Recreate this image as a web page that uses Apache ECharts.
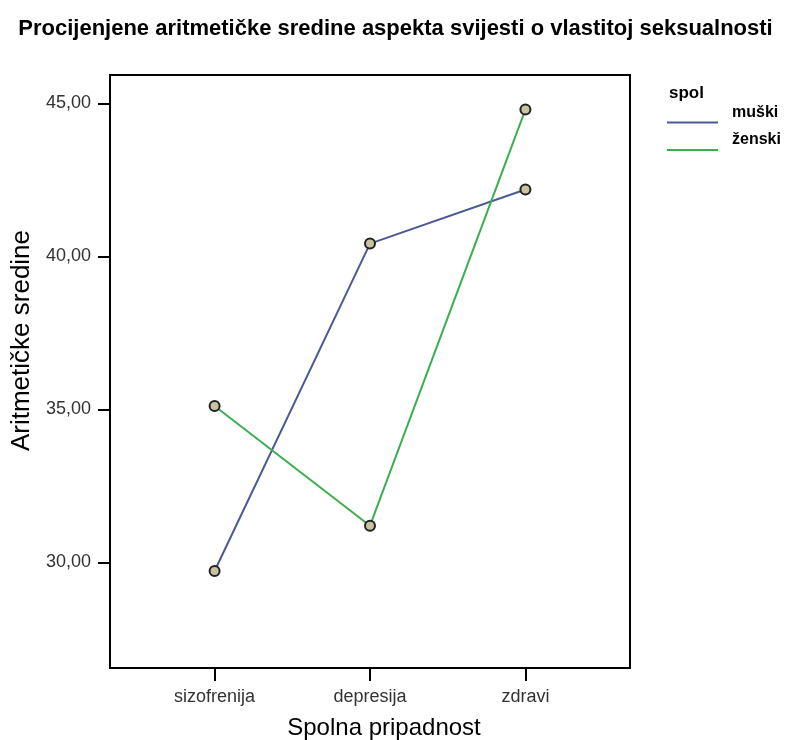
<!DOCTYPE html>
<html>
<head>
<meta charset="utf-8">
<script src="https://cdn.jsdelivr.net/npm/echarts@6/dist/echarts.min.js"></script>
<style>html,body{margin:0;padding:0;background:#fff}#c{width:791px;height:740px}</style>
</head>
<body>
<div id="c"></div>
<script>
var categories = ['sizofrenija', 'depresija', 'zdravi'];
var seriesNames = ['muški', 'ženski'];
var muski = [29.72, 40.42, 42.19];
var zenski = [35.11, 31.2, 44.8];
var yTicks = [30, 35, 40, 45];
var colors = ['#4a5a95', '#3cae50'];

var font = '"Liberation Sans", Arial, sans-serif';
function pts(arr) { return arr.map(function (v, i) { return [i, v]; }); }

var legendGraphics = [];
seriesNames.forEach(function (n, i) {
  var y = 122.5 + i * 27.5;
  legendGraphics.push({ type: 'line', shape: { x1: 667, y1: y, x2: 718, y2: y },
    style: { stroke: colors[i], lineWidth: 2 } });
  legendGraphics.push({ type: 'text', x: 732, y: y - 10,
    style: { text: n, fontFamily: font, fontSize: 16, fontWeight: 'bold', fill: '#000', verticalAlign: 'middle' } });
});

var chart = echarts.init(document.getElementById('c'));
chart.setOption({
  backgroundColor: '#fff',
  animation: false,
  title: [
    { text: 'Procijenjene aritmetičke sredine aspekta svijesti o vlastitoj seksualnosti',
      left: 'center', top: 13,
      textStyle: { fontFamily: font, fontSize: 22, fontWeight: 'bold', color: '#000' } },
    { text: 'spol', left: 664, top: 80,
      textStyle: { fontFamily: font, fontSize: 17, fontWeight: 'bold', color: '#000' } }
  ],
  graphic: legendGraphics,
  grid: { left: 110, right: 161, top: 75, bottom: 72, show: true, borderColor: '#000', borderWidth: 2,
    containLabel: false, outerBoundsMode: 'none' },
  xAxis: {
    type: 'value', min: -0.673, max: 2.673,
    name: 'Spolna pripadnost', nameLocation: 'middle', nameGap: 48,
    nameTextStyle: { fontFamily: font, fontSize: 24, color: '#000', padding: [0, 0, 0, 28] },
    axisLine: { show: true, onZero: false, lineStyle: { color: '#000', width: 2 } },
    axisTick: { show: true, length: 13, lineStyle: { color: '#000', width: 2 }, customValues: [0, 1, 2] },
    axisLabel: { fontFamily: font, fontSize: 18, color: '#333', margin: 20, customValues: [0, 1, 2],
      formatter: function (v) { return categories[Math.round(v)]; } },
    splitLine: { show: false }
  },
  yAxis: {
    type: 'value', min: 26.55, max: 45.93,
    name: 'Aritmetičke sredine', nameLocation: 'middle', nameGap: 74,
    nameTextStyle: { fontFamily: font, fontSize: 26, color: '#000', padding: [0, 0, 0, 62] },
    axisLine: { show: true, onZero: false, lineStyle: { color: '#000', width: 2 } },
    axisTick: { show: true, length: 12, lineStyle: { color: '#000', width: 2 }, customValues: yTicks },
    axisLabel: { fontFamily: font, fontSize: 18, color: '#333', margin: 19, customValues: yTicks,
      formatter: function (v) { return v.toFixed(2).replace('.', ','); } },
    splitLine: { show: false }
  },
  series: [
    { name: seriesNames[0], type: 'line', data: pts(muski),
      lineStyle: { color: colors[0], width: 2 },
      symbol: 'circle', symbolSize: 10,
      itemStyle: { color: '#c8c4a0', borderColor: '#222', borderWidth: 2 } },
    { name: seriesNames[1], type: 'line', data: pts(zenski),
      lineStyle: { color: colors[1], width: 2 },
      symbol: 'circle', symbolSize: 10,
      itemStyle: { color: '#c8c4a0', borderColor: '#222', borderWidth: 2 } }
  ]
});
</script>
</body>
</html>
